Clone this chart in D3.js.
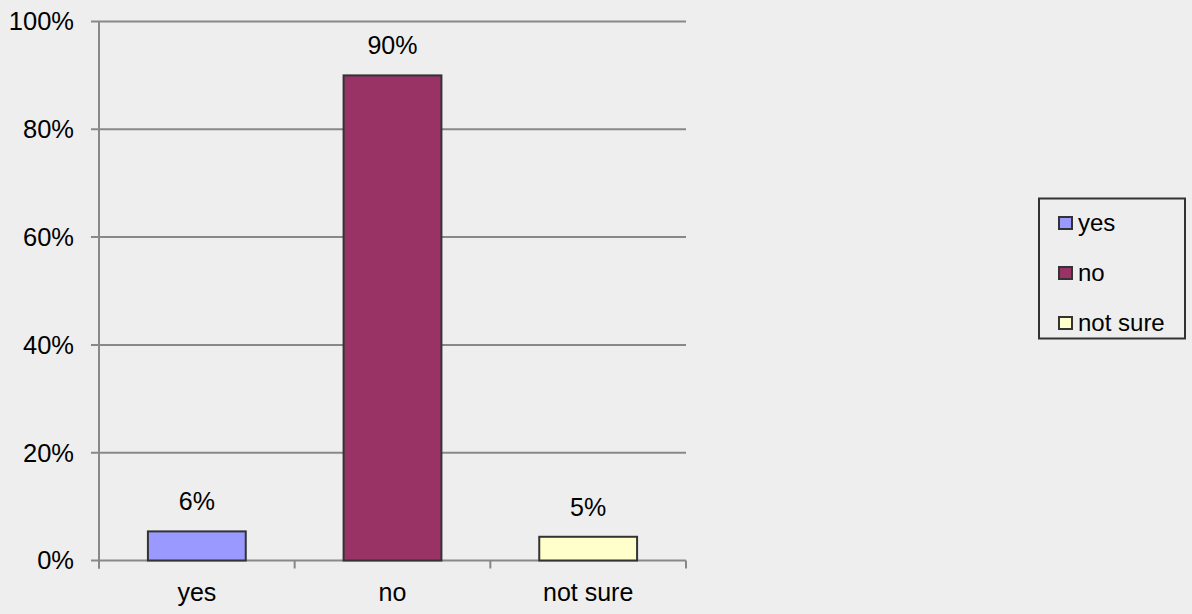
<!DOCTYPE html>
<html><head><meta charset="utf-8">
<script src="https://cdn.jsdelivr.net/npm/d3@7"></script>
<style>
html,body{margin:0;padding:0;background:#eeeeee;}
svg{display:block;font-family:"Liberation Sans",Arial,sans-serif;}
</style></head>
<body>
<svg id="c" width="1192" height="614"></svg>
<script>
const categories = ["yes", "no", "not sure"];
const values = [5.4, 90.0, 4.4];
const valueLabels = ["6%", "90%", "5%"];
const colors = ["#9999ff", "#993366", "#ffffcc"];
const yTicks = [0, 20, 40, 60, 80, 100];

(function () {
const svg = d3.select("#c");
const pl = 99, pr = 686, pt = 21.5, pb = 560.5;

const x = d3.scaleBand().domain(categories).range([pl, pr]).paddingInner(0.5).paddingOuter(0.25);
const xb = d3.scaleBand().domain(categories).range([pl, pr]);
const y = d3.scaleLinear().domain([0, 100]).range([pb, pt]);

// gridlines
svg.append("g").selectAll("line").data(yTicks).join("line")
  .attr("x1", pl - 8).attr("x2", pr)
  .attr("y1", d => y(d)).attr("y2", d => y(d))
  .attr("stroke", "#888").attr("stroke-width", 2);

// y axis line
svg.append("line").attr("x1", pl).attr("x2", pl).attr("y1", pt).attr("y2", pb + 8)
  .attr("stroke", "#888").attr("stroke-width", 2);

// y labels
svg.append("g").selectAll("text").data(yTicks).join("text")
  .attr("x", 74).attr("y", d => y(d)).attr("dy", "0.35em")
  .attr("text-anchor", "end").attr("font-size", 25.5).attr("fill", "#000")
  .text(d => d + "%");

// x category ticks
const bounds = categories.map(c => xb(c)).concat([pr]);
svg.append("g").selectAll("line").data(bounds).join("line")
  .attr("x1", d => d).attr("x2", d => d).attr("y1", pb).attr("y2", pb + 8)
  .attr("stroke", "#888").attr("stroke-width", 2);

// bars
svg.append("g").selectAll("rect").data(values).join("rect")
  .attr("x", (d, i) => x(categories[i]))
  .attr("width", x.bandwidth())
  .attr("y", d => y(d))
  .attr("height", d => pb - y(d))
  .attr("fill", (d, i) => colors[i])
  .attr("stroke", "#333").attr("stroke-width", 2);

// value labels
svg.append("g").selectAll("text").data(values).join("text")
  .attr("x", (d, i) => x(categories[i]) + x.bandwidth() / 2)
  .attr("y", d => y(d) - 21)
  .attr("text-anchor", "middle").attr("font-size", 25)
  .text((d, i) => valueLabels[i]);

// x labels
svg.append("g").selectAll("text").data(categories).join("text")
  .attr("x", d => x(d) + x.bandwidth() / 2)
  .attr("y", 601)
  .attr("text-anchor", "middle").attr("font-size", 25)
  .text(d => d);

// legend
const lg = svg.append("g");
lg.append("rect").attr("x", 1039).attr("y", 198.5).attr("width", 146).attr("height", 140)
  .attr("fill", "#eeeeee").attr("stroke", "#333").attr("stroke-width", 2);
const items = lg.selectAll("g").data(categories).join("g")
  .attr("transform", (d, i) => `translate(1059,${223 + i * 50})`);
items.append("rect").attr("x", 0).attr("y", -6).attr("width", 13).attr("height", 12)
  .attr("fill", (d, i) => colors[i]).attr("stroke", "#333").attr("stroke-width", 2);
items.append("text").attr("x", 19).attr("y", 0).attr("dy", "0.35em")
  .attr("font-size", 24).text(d => d);
})();
</script>
</body></html>
